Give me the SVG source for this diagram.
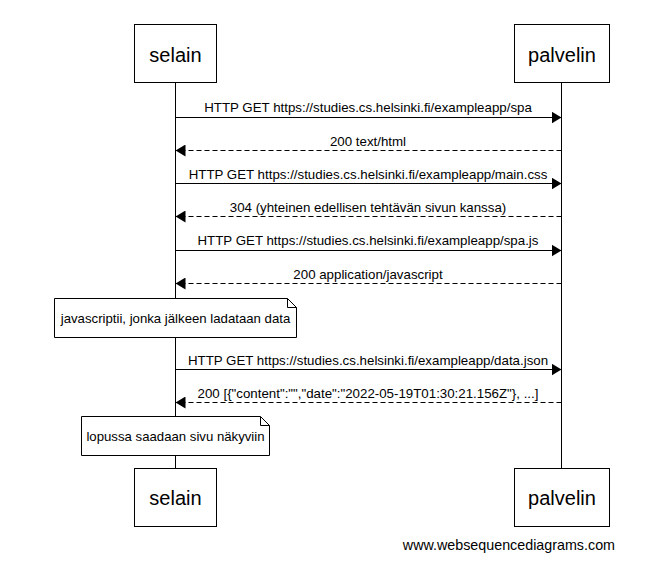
<svg xmlns="http://www.w3.org/2000/svg" width="660" height="581" viewBox="0 0 660 581">
<style>
text{font-family:"Liberation Sans",Arial,sans-serif;fill:#000}
.box{fill:#fff;stroke:#000;stroke-width:1}
.name{font-size:20px;text-anchor:middle}
.lbl{font-size:13.3px;text-anchor:middle}
.life{stroke:#000;stroke-width:1}
.msg{stroke:#000;stroke-width:1;fill:none}
.dash{stroke-dasharray:5,3}
.note{font-size:13.2px;text-anchor:middle}
</style>
<defs>
<marker id="ah" markerWidth="10" markerHeight="12" refX="10" refY="6" orient="auto" markerUnits="userSpaceOnUse">
<path d="M0,0 L10,6 L0,12 Z" fill="#000"/>
</marker>
</defs>
<rect width="660" height="581" fill="#fff"/>
<g id="lifelines">
<line class="life" x1="175.5" y1="82" x2="175.5" y2="468"/>
<line class="life" x1="561.5" y1="82" x2="561.5" y2="468"/>
</g>
<g id="selain">
<rect class="box" x="134.5" y="24.5" width="82" height="58"/>
<text class="name" x="175.5" y="62">selain</text>
</g>
<g id="palvelin">
<rect class="box" x="514.5" y="24.5" width="95" height="58"/>
<text class="name" x="562" y="62">palvelin</text>
</g>
<g id="selain-bottom">
<rect class="box" x="134.5" y="468.5" width="82" height="58"/>
<text class="name" x="175.5" y="505">selain</text>
</g>
<g id="palvelin-bottom">
<rect class="box" x="514.5" y="468.5" width="95" height="58"/>
<text class="name" x="562" y="505">palvelin</text>
</g>
<g id="connectors">
<line class="msg" x1="175.5" y1="117.5" x2="561.5" y2="117.5" marker-end="url(#ah)"/>
<text class="lbl" x="368" y="112">HTTP GET https://studies.cs.helsinki.fi/exampleapp/spa</text>
<line class="msg dash" x1="561.5" y1="150.5" x2="175.5" y2="150.5" marker-end="url(#ah)"/>
<text class="lbl" x="368" y="145.5">200 text/html</text>
<line class="msg" x1="175.5" y1="183.5" x2="561.5" y2="183.5" marker-end="url(#ah)"/>
<text class="lbl" x="368" y="178.5">HTTP GET https://studies.cs.helsinki.fi/exampleapp/main.css</text>
<line class="msg dash" x1="561.5" y1="216.5" x2="175.5" y2="216.5" marker-end="url(#ah)"/>
<text class="lbl" x="368" y="211.5">304 (yhteinen edellisen tehtävän sivun kanssa)</text>
<line class="msg" x1="175.5" y1="250.5" x2="561.5" y2="250.5" marker-end="url(#ah)"/>
<text class="lbl" x="368" y="245">HTTP GET https://studies.cs.helsinki.fi/exampleapp/spa.js</text>
<line class="msg dash" x1="561.5" y1="283.5" x2="175.5" y2="283.5" marker-end="url(#ah)"/>
<text class="lbl" x="368" y="278.5">200 application/javascript</text>
<line class="msg" x1="175.5" y1="369.5" x2="561.5" y2="369.5" marker-end="url(#ah)"/>
<text class="lbl" x="368" y="364.5">HTTP GET https://studies.cs.helsinki.fi/exampleapp/data.json</text>
<line class="msg dash" x1="561.5" y1="402.5" x2="175.5" y2="402.5" marker-end="url(#ah)"/>
<text class="lbl" x="368" y="397.5">200 [{"content":"","date":"2022-05-19T01:30:21.156Z"}, ...]</text>
</g>
<g id="note1">
<path class="box" d="M54.5,298.5 H287.5 L296.5,307.5 V337.5 H54.5 Z"/>
<path class="msg" d="M287.5,298.5 V307.5 H296.5"/>
<text class="note" x="175.5" y="323">javascriptii, jonka jälkeen ladataan data</text>
</g>
<g id="note2">
<path class="box" d="M81.5,416.5 H260.5 L269.5,425.5 V455.5 H81.5 Z"/>
<path class="msg" d="M260.5,416.5 V425.5 H269.5"/>
<text class="note" x="175.5" y="441">lopussa saadaan sivu näkyviin</text>
</g>
<text x="615" y="549.5" style="font-size:14.3px;text-anchor:end">www.websequencediagrams.com</text>
</svg>
